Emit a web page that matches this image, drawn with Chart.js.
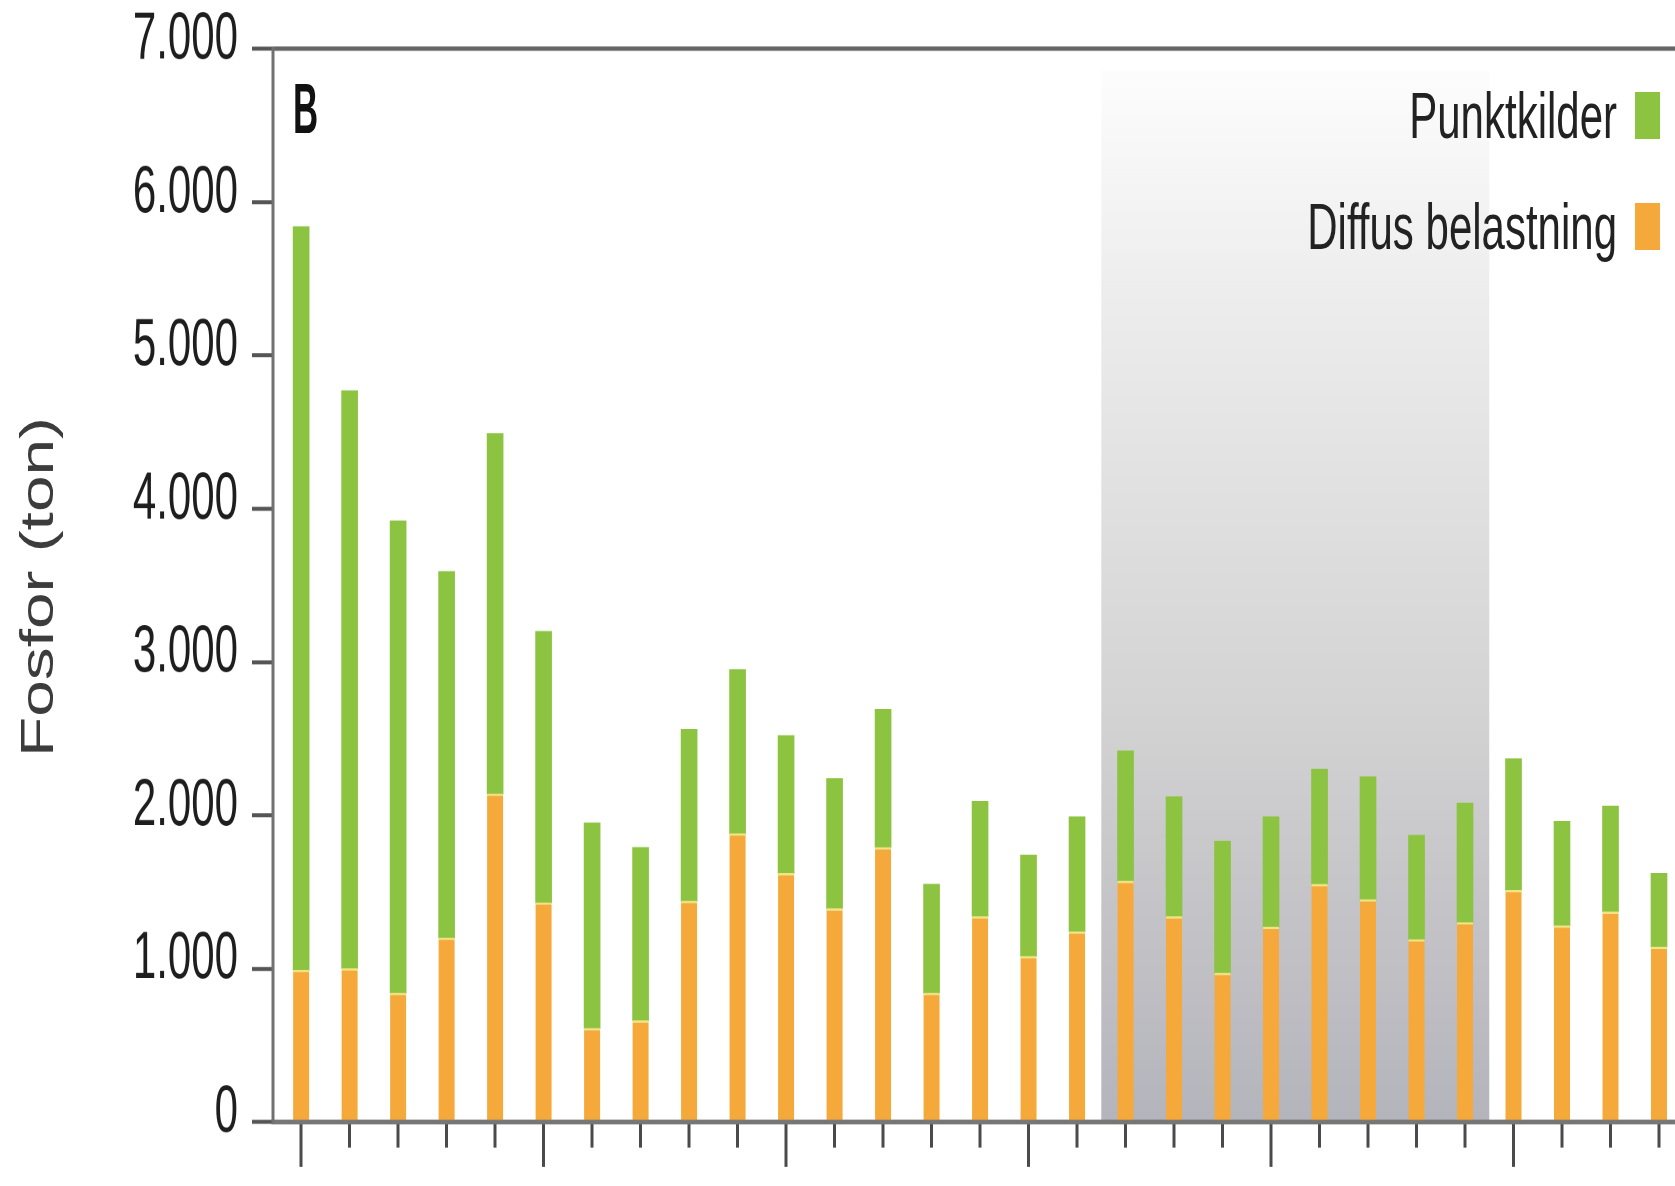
<!DOCTYPE html>
<html>
<head>
<meta charset="utf-8">
<script src="https://cdn.jsdelivr.net/npm/chart.js@4.4.1/dist/chart.umd.min.js"></script>
<style>
   html, body { margin: 0; padding: 0; background: #fff; overflow: hidden; }
   #wrap { position: relative; width: 1675px; height: 1186px; }
   #chart { position: absolute; left: 0; top: 0; }
   .txt {
      position: absolute;
      white-space: nowrap;
      line-height: 1;
      font-family: 'Liberation Sans', Arial, sans-serif;
      color: #222;
   }
   #panel { left: 293px; top: 74px; font-size: 44px; font-weight: bold; color: #111;
            transform-origin: 0 0; transform: scale(0.79, 1.59); }
   #ytitle { left: 37px; top: 587px; font-size: 46px; color: #3c3c3c;
             transform-origin: 50% 50%;
             transform: translate(-50%, -50%) rotate(-90deg) scaleX(1.43); }
   .legtext { right: 58px; font-size: 42px; transform-origin: 100% 0; transform: scaleY(1.55); }
   .legbox { position: absolute; right: 15px; width: 25px; height: 47px; }
</style>
</head>
<body>
<div id="wrap">
   <!-- originalen er strakt lodret, så lærredet tegnes lavt og strækkes -->
   <canvas id="chart" width="1675" height="741" style="width:1675px;height:1186px"></canvas>
   <div class="txt" id="panel">B</div>
   <div class="txt" id="ytitle">Fosfor (ton)</div>
</div>
<script>

// år (x-aksens kategorier, labels er beskåret i originalen)
const categories = [
   1990, 1991, 1992, 1993, 1994, 1995, 1996, 1997, 1998, 1999,
   2000, 2001, 2002, 2003, 2004, 2005, 2006, 2007, 2008, 2009,
   2010, 2011, 2012, 2013, 2014, 2015, 2016, 2017, 2018
];

// ton fosfor
const diffusBelastning = [
   990, 1000, 840, 1200, 2140, 1430, 610, 660, 1440, 1880,
   1620, 1390, 1790, 840, 1340, 1080, 1240, 1570, 1340, 970,
   1270, 1550, 1450, 1190, 1300, 1510, 1280, 1370, 1140
];

const punktkilder = [
   4850, 3770, 3080, 2390, 2350, 1770, 1340, 1130, 1120, 1070,
   900, 850, 900, 710, 750, 660, 750, 850, 780, 860,
   720, 750, 800, 680, 780, 860, 680, 690, 480
];

const yTickLabels = ["0", "1.000", "2.000", "3.000", "4.000", "5.000", "6.000", "7.000"];

// grå periode i baggrunden
const shadeFrom = 2006.5;
const shadeTo = 2014.5;
const shadeTop = 6860;

const xMin = 1989.42;
const xMax = 2018.33;

const GREEN = "#8cc341";
const ORANGE = "#f5a93b";
const FONT = "'Liberation Sans', Arial, sans-serif";


const shadePlugin = {

   id: "shade",

   beforeDraw(chart){

      let ctx = chart.ctx;
      let area = chart.chartArea;

      let x1 = chart.scales.x.getPixelForValue(shadeFrom);
      let x2 = chart.scales.x.getPixelForValue(shadeTo);
      let y1 = chart.scales.y.getPixelForValue(shadeTop);
      let y2 = area.bottom;

      let gradient = ctx.createLinearGradient(0, y1, 0, y2);

      gradient.addColorStop(0, "#fdfdfd");
      gradient.addColorStop(0.2, "#eeeeee");
      gradient.addColorStop(0.6, "#d4d4d4");
      gradient.addColorStop(1, "#b4b4bc");

      ctx.save();
      ctx.fillStyle = gradient;
      ctx.fillRect(x1, y1, x2 - x1, y2 - y1);
      ctx.restore();

   }

};


function yearTicks(step){

   return function(scale){

      scale.ticks = categories
         .filter(v => v % step === 0)
         .map(v => ({ value: v }));

   };

}


let chart = new Chart(document.getElementById("chart"), {

   type: "bar",

   data: {

      labels: categories,

      datasets: [
         {
            label: "Diffus belastning",
            data: diffusBelastning,
            backgroundColor: ORANGE,
            borderColor: "#f0e487",
            borderWidth: { top: 1.5, left: 0, right: 0, bottom: 0 },
            borderSkipped: "bottom",
            barThickness: 16
         },
         {
            label: "Punktkilder",
            data: punktkilder,
            backgroundColor: GREEN,
            borderWidth: 0,
            barThickness: 16
         }
      ]

   },

   options: {

      responsive: false,
      animation: false,
      devicePixelRatio: 2,

      layout: {
         padding: { left: 0, top: 30.6, right: 0, bottom: 24 }
      },

      plugins: {
         legend: { display: false },
         tooltip: { enabled: false }
      },

      scales: {

         x: {
            type: "linear",
            bounds: "data",
            offset: false,
            stacked: true,
            min: xMin,
            max: xMax,
            position: "bottom",
            ticks: { display: false },
            afterBuildTicks: yearTicks(1),
            grid: { offset: false, drawOnChartArea: false, tickLength: 16, tickWidth: 3, tickColor: "#4a4a4a" },
            border: { color: "#767676", width: 3 },
            afterFit: function(scale){ scale.height = 16; }
         },

         // lange streger hvert 5. år
         x2: {
            type: "linear",
            bounds: "data",
            offset: false,
            min: xMin,
            max: xMax,
            position: { y: 0 },
            ticks: { display: false },
            afterBuildTicks: yearTicks(5),
            grid: { offset: false, drawOnChartArea: false, tickLength: 28, tickWidth: 3, tickColor: "#4a4a4a" },
            border: { display: false }
         },

         y: {
            stacked: true,
            min: 0,
            max: 7000,
            ticks: {
               stepSize: 1000,
               padding: 14,
               labelOffset: -5.6,
               color: "#1e1e1e",
               font: { family: FONT, size: 42 },
               callback: function(value){ return yTickLabels[Math.round(value / 1000)]; }
            },
            grid: {
               color: function(c){
                  return c.tick && c.tick.value === 7000 ? "#666" : "rgba(0,0,0,0)";
               },
               lineWidth: 2.8,
               tickLength: 21,
               tickWidth: 2.5,
               tickColor: "#555"
            },
            border: { color: "#707070", width: 3 },
            afterFit: function(scale){
               scale.width = 273;
               scale.paddingTop = 0;
               scale.paddingBottom = 0;
            }
         }

      }

   },

   plugins: [shadePlugin]

});


/* legende, øverst til højre, bygget ud fra datasættene */

function buildLegend(){

   let wrap = document.getElementById("wrap");

   let items = chart.data.datasets.slice().reverse();

   items.forEach(function(ds, i){

      let text = document.createElement("div");
      text.className = "txt legtext";
      text.style.top = (83.5 + i * 111) + "px";
      text.textContent = ds.label;
      wrap.appendChild(text);

      let box = document.createElement("div");
      box.className = "legbox";
      box.style.top = (92 + i * 111) + "px";
      box.style.background = ds.backgroundColor;
      wrap.appendChild(box);

   });

}

buildLegend();

</script>
</body>
</html>
